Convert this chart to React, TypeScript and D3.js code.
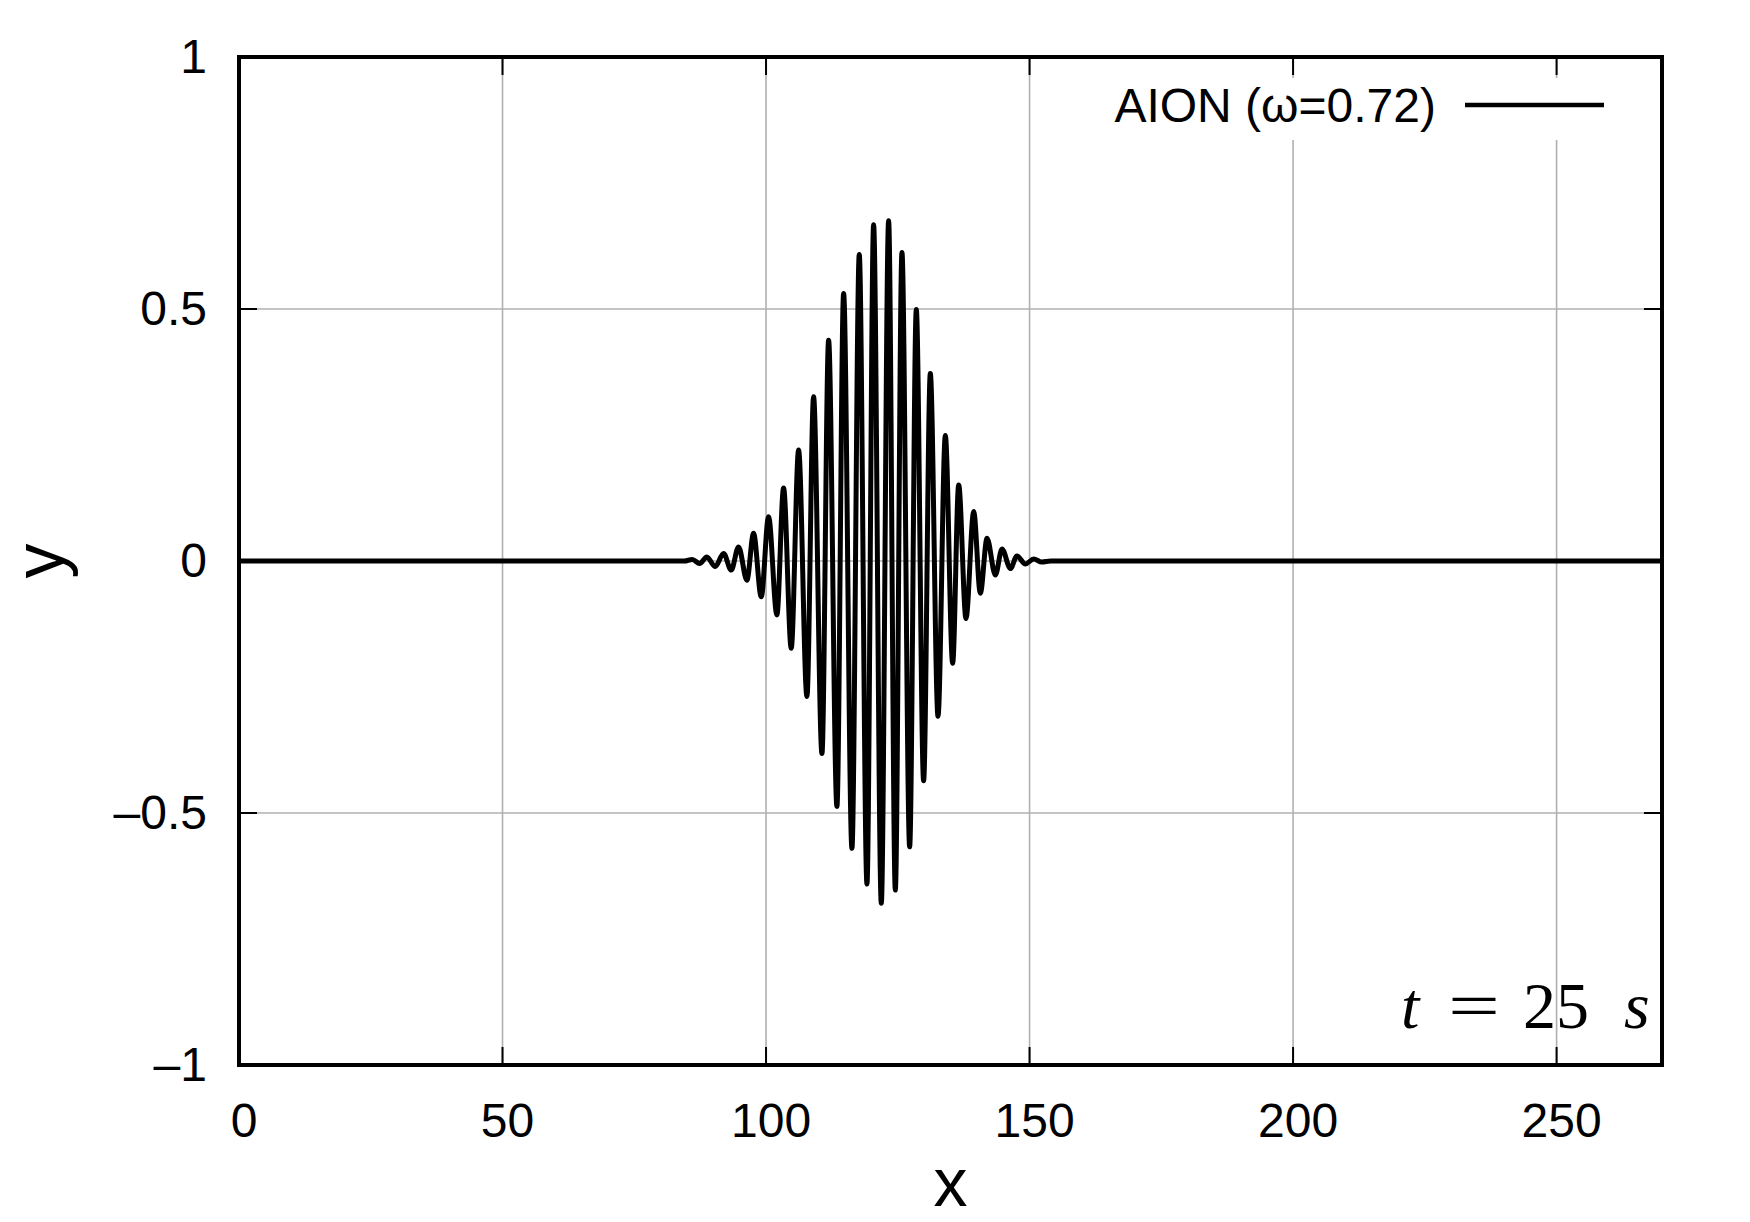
import React from "react";
import * as d3 from "d3";

// Extrema of the wave packet (x, y)
const waveX: number[] = [
  0, 30, 60, 84.5, 86.0, 87.4,
  88.77, 90.36, 91.94, 93.39, 94.79, 96.37, 97.63, 99.09, 100.48, 102.06,
  103.33, 104.78, 106.18, 107.76, 109.02, 110.61, 111.87, 113.45, 114.72, 116.3,
  117.69, 119.15, 120.41, 121.87, 123.26, 124.53, 125.79, 127.25, 128.51, 129.9,
  131.17, 132.63, 134.02, 135.41, 136.55, 137.94, 139.4, 140.66, 141.93, 143.51,
  144.77, 146.36, 147.62, 149.2, 150.79, 152.3, 154.0, 160, 200, 240, 270,
];
const waveY: number[] = [
  0, 0, 0, 0, 0.003, -0.005,
  0.008, -0.011, 0.015, -0.018, 0.028, -0.038, 0.055, -0.071, 0.088, -0.107,
  0.145, -0.173, 0.22, -0.269, 0.326, -0.382, 0.438, -0.487, 0.531, -0.57,
  0.608, -0.641, 0.667, -0.679, 0.675, -0.653, 0.612, -0.567, 0.499, -0.436,
  0.372, -0.308, 0.249, -0.203, 0.151, -0.114, 0.098, -0.064, 0.045, -0.028,
  0.024, -0.015, 0.01, -0.006, 0.004, -0.002, 0, 0, 0, 0, 0,
];

const xTicks: number[] = [0, 50, 100, 150, 200, 250];
const yTicks: number[] = [-1, -0.5, 0, 0.5, 1];
const yTickLabels: string[] = ["\u20131", "\u20130.5", "0", "0.5", "1"];
const legendLabel = "AION (\u03c9=0.72)";

const W = 1750;
const H = 1222;
const L = 239;
const R = 1662;
const T = 57;
const B = 1065;

export default function App() {
  const x = d3.scaleLinear().domain([0, 270]).range([L, R]);
  const y = d3.scaleLinear().domain([-1, 1]).range([B, T]);
  const pts: [number, number][] = waveX.map((v, i) => [v, waveY[i]]);
  const line = d3
    .line<[number, number]>()
    .curve(d3.curveMonotoneX)
    .x((d) => x(d[0]))
    .y((d) => y(d[1]));
  const sans = "'Liberation Sans', Arial, Helvetica, sans-serif";
  const serif = "'Liberation Serif', 'Times New Roman', serif";
  const tickLen = 18;
  return (
    <svg
      width={W}
      height={H}
      style={{ position: "absolute", left: 0, top: 0, background: "#fff" }}
      xmlns="http://www.w3.org/2000/svg"
    >
      <rect x={0} y={0} width={W} height={H} fill="#fff" />
      <defs>
        <clipPath id="plotclip">
          <rect x={L} y={T} width={R - L} height={B - T} />
        </clipPath>
      </defs>
      {/* grid */}
      <g stroke="#b0b0b0" strokeWidth={1.6}>
        {xTicks.map((t) => (
          <line key={"gx" + t} x1={x(t)} x2={x(t)} y1={T} y2={B} />
        ))}
        {yTicks.map((t) => (
          <line key={"gy" + t} x1={L} x2={R} y1={y(t)} y2={y(t)} />
        ))}
      </g>
      {/* ticks */}
      <g stroke="#000" strokeWidth={2}>
        {xTicks.map((t) => (
          <g key={"tx" + t}>
            <line x1={x(t)} x2={x(t)} y1={B} y2={B - tickLen} />
            <line x1={x(t)} x2={x(t)} y1={T} y2={T + tickLen} />
          </g>
        ))}
        {yTicks.map((t) => (
          <g key={"ty" + t}>
            <line x1={L} x2={L + tickLen} y1={y(t)} y2={y(t)} />
            <line x1={R} x2={R - tickLen} y1={y(t)} y2={y(t)} />
          </g>
        ))}
      </g>
      {/* legend box */}
      <rect x={1100} y={78} width={525} height={62} fill="#fff" />
      <text
        x={1436}
        y={122}
        textAnchor="end"
        fontFamily={sans}
        fontSize={48}
        fill="#000"
      >
        {legendLabel}
      </text>
      <line x1={1465} x2={1604} y1={105} y2={105} stroke="#000" strokeWidth={4.5} />
      {/* curve */}
      <path
        d={line(pts) || ""}
        fill="none"
        stroke="#000"
        strokeWidth={5}
        strokeLinejoin="bevel"
        clipPath="url(#plotclip)"
      />
      {/* frame */}
      <rect
        x={L}
        y={T}
        width={R - L}
        height={B - T}
        fill="none"
        stroke="#000"
        strokeWidth={4}
      />
      {/* tick labels */}
      <g fontFamily={sans} fontSize={48} fill="#000">
        {xTicks.map((t) => (
          <text key={"lx" + t} x={x(t) + 5} y={1137} textAnchor="middle">
            {String(t)}
          </text>
        ))}
        {yTicks.map((t, i) => (
          <text key={"ly" + t} x={207} y={y(t)} dy="0.34em" textAnchor="end">
            {yTickLabels[i]}
          </text>
        ))}
      </g>
      {/* axis labels */}
      <text
        x={(L + R) / 2}
        y={1206}
        textAnchor="middle"
        fontFamily={sans}
        fontSize={68}
      >
        x
      </text>
      <text
        transform={`translate(63, ${(T + B) / 2}) rotate(-90)`}
        textAnchor="middle"
        fontFamily={sans}
        fontSize={70}
      >
        y
      </text>
      {/* time annotation */}
      <g fontFamily={serif} fontSize={66} fill="#000">
        <text x={1401} y={1028} fontStyle="italic">t</text>
        <text x={1448} y={1028} textLength={52} lengthAdjust="spacingAndGlyphs">=</text>
        <text x={1523} y={1028}>25</text>
        <text x={1624} y={1028} fontStyle="italic">s</text>
      </g>
    </svg>
  );
}
